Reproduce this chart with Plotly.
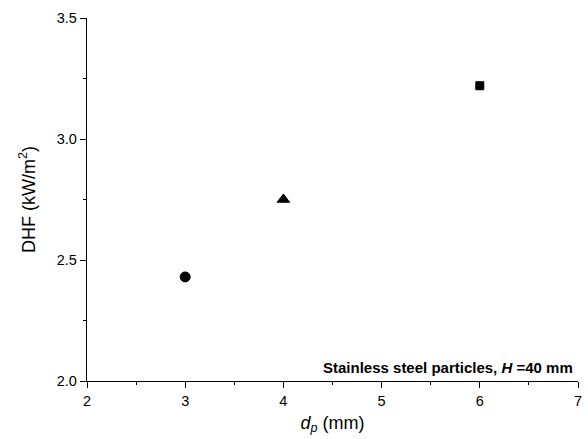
import plotly.graph_objects as go

dp = [3, 4, 6]
dhf = [2.43, 2.75, 3.22]
symbols = ["circle", "triangle-up", "square"]
sizes = [10, 11, 8]

fig = go.Figure()
fig.add_trace(go.Scatter(
    x=dp, y=dhf, mode="markers",
    marker=dict(symbol=symbols, size=sizes, color="black", opacity=1,
                line=dict(color="black", width=1)),
    showlegend=False, cliponaxis=False,
))

font = "Liberation Sans, Arial, sans-serif"
fig.update_layout(
    width=588, height=439,
    margin=dict(l=87, r=6, t=18, b=58),
    paper_bgcolor="white", plot_bgcolor="white",
    font=dict(family=font, color="black", size=14),
    xaxis=dict(
        range=[2, 7], dtick=1, tick0=2,
        showline=True, linecolor="black", linewidth=1.3,
        ticks="outside", ticklen=6, tickcolor="black", tickwidth=1.3,
        minor=dict(ticks="outside", dtick=0.5, ticklen=3, tickcolor="black"),
        showgrid=False, zeroline=False,
        title=dict(text="<i>d</i><sub><i>p</i></sub> (mm)", font=dict(size=18), standoff=8),
        tickfont=dict(size=14.5),
    ),
    yaxis=dict(
        range=[2.0, 3.5], dtick=0.5, tick0=2.0, tickformat=".1f",
        showline=True, linecolor="black", linewidth=1.3,
        ticks="outside", ticklen=6, tickcolor="black", tickwidth=1.3,
        minor=dict(ticks="outside", dtick=0.25, ticklen=3, tickcolor="black"),
        showgrid=False, zeroline=False,
        title=dict(text="DHF (kW/m<sup>2</sup>)", font=dict(size=18), standoff=16),
        tickfont=dict(size=14.5),
    ),
)

fig.add_annotation(
    x=1, y=0, xref="paper", yref="paper", xanchor="right", yanchor="bottom",
    xshift=-3, yshift=3,
    text="<b>Stainless steel particles, <i>H</i> =40 mm</b>",
    showarrow=False, font=dict(size=15, family=font, color="black"),
)

fig.write_html("out.html")
